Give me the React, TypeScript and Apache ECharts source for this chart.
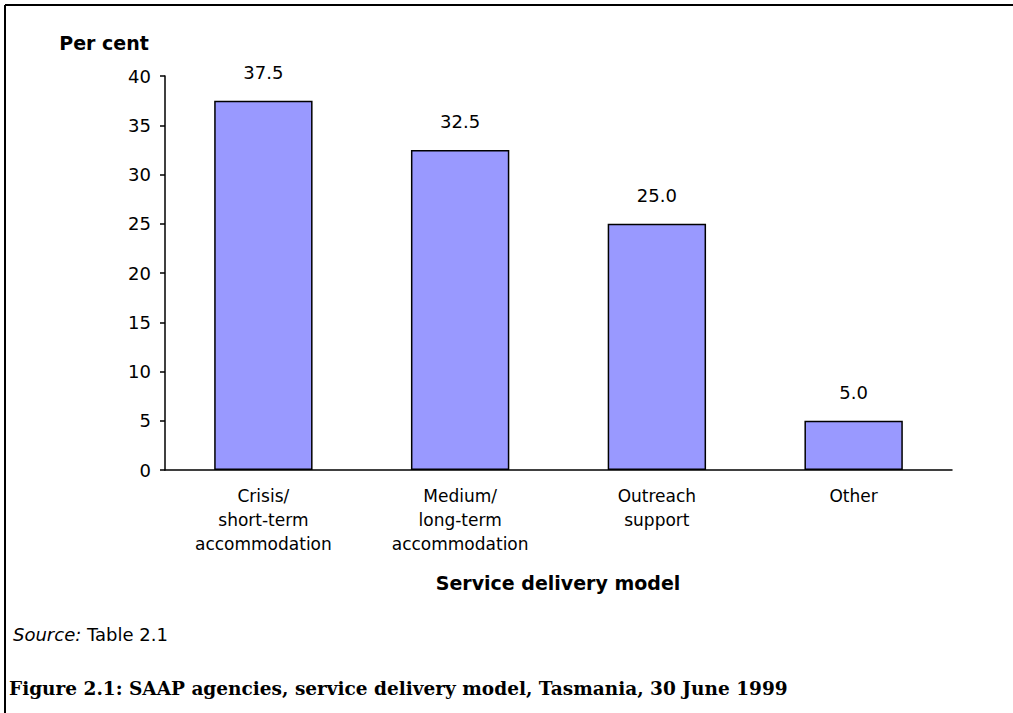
import React, { useEffect, useRef } from "react";
import * as echarts from "echarts";

const categories = [
  "Crisis/\nshort-term\naccommodation",
  "Medium/\nlong-term\naccommodation",
  "Outreach\nsupport",
  "Other",
];
const values = [37.5, 32.5, 25.0, 5.0];
const yTicks = { min: 0, max: 40, interval: 5 };
const yAxisTitle = "Per cent";
const xAxisTitle = "Service delivery model";
const sourceLabel = "Source:";
const sourceText = " Table 2.1";
const caption = "Figure 2.1: SAAP agencies, service delivery model, Tasmania, 30 June 1999";

export default function App() {
  const ref = useRef<HTMLDivElement>(null);
  useEffect(() => {
    document.body.style.margin = "0";
    const chart = echarts.init(ref.current!, null, { renderer: "svg" });
    const sans = "DejaVu Sans";
    chart.setOption({
      animation: false,
      backgroundColor: "#ffffff",
      grid: { left: 165, right: 61, top: 76, bottom: 243 },
      xAxis: {
        type: "category",
        data: categories,
        axisLine: { lineStyle: { color: "#000", width: 1.5 } },
        axisTick: { show: false },
        axisLabel: {
          color: "#000",
          fontFamily: sans,
          fontSize: 17,
          lineHeight: 24,
          margin: 14,
          interval: 0,
        },
      },
      yAxis: {
        type: "value",
        min: yTicks.min,
        max: yTicks.max,
        interval: yTicks.interval,
        splitLine: { show: false },
        axisLine: { show: true, lineStyle: { color: "#000", width: 1.5 } },
        axisTick: { show: true, length: 5, lineStyle: { color: "#000", width: 1.5 } },
        axisLabel: {
          color: "#000",
          fontFamily: sans,
          fontSize: 18,
          margin: 14,
        },
      },
      series: [
        {
          type: "bar",
          data: values,
          barWidth: "50%",
          itemStyle: { color: "#9999FF", borderColor: "#000", borderWidth: 1.5 },
          label: {
            show: true,
            position: "top",
            distance: 19,
            color: "#000",
            fontFamily: sans,
            fontSize: 18,
            formatter: (p: any) => Number(p.value).toFixed(1),
          },
        },
      ],
      graphic: [
        { type: "line", shape: { x1: 5, y1: 5, x2: 1013, y2: 5 }, style: { stroke: "#000", lineWidth: 2 } },
        { type: "line", shape: { x1: 5, y1: 5, x2: 5, y2: 713 }, style: { stroke: "#000", lineWidth: 2 } },
        {
          type: "text",
          x: 104,
          y: 43,
          style: {
            text: yAxisTitle,
            fontFamily: sans,
            fontWeight: "bold",
            fontSize: 19,
            fill: "#000",
            textAlign: "center",
            textVerticalAlign: "middle",
          },
        },
        {
          type: "text",
          x: 558,
          y: 583,
          style: {
            text: xAxisTitle,
            fontFamily: sans,
            fontWeight: "bold",
            fontSize: 19,
            fill: "#000",
            textAlign: "center",
            textVerticalAlign: "middle",
          },
        },
        {
          type: "text",
          x: 13,
          y: 634,
          style: {
            text: "{i|" + sourceLabel + "}{n|" + sourceText + "}",
            rich: {
              i: { fontFamily: sans, fontStyle: "italic", fontSize: 18, fill: "#000" },
              n: { fontFamily: sans, fontSize: 18, fill: "#000" },
            },
            textVerticalAlign: "middle",
          },
        },
        {
          type: "text",
          x: 9,
          y: 688,
          style: {
            text: caption,
            fontFamily: "DejaVu Serif",
            fontWeight: "bold",
            fontSize: 18.5,
            fill: "#000",
            textVerticalAlign: "middle",
          },
        },
      ],
    });
    return () => chart.dispose();
  }, []);
  return (
    <div
      ref={ref}
      style={{ position: "absolute", left: 0, top: 0, width: 1013, height: 713 }}
    />
  );
}
